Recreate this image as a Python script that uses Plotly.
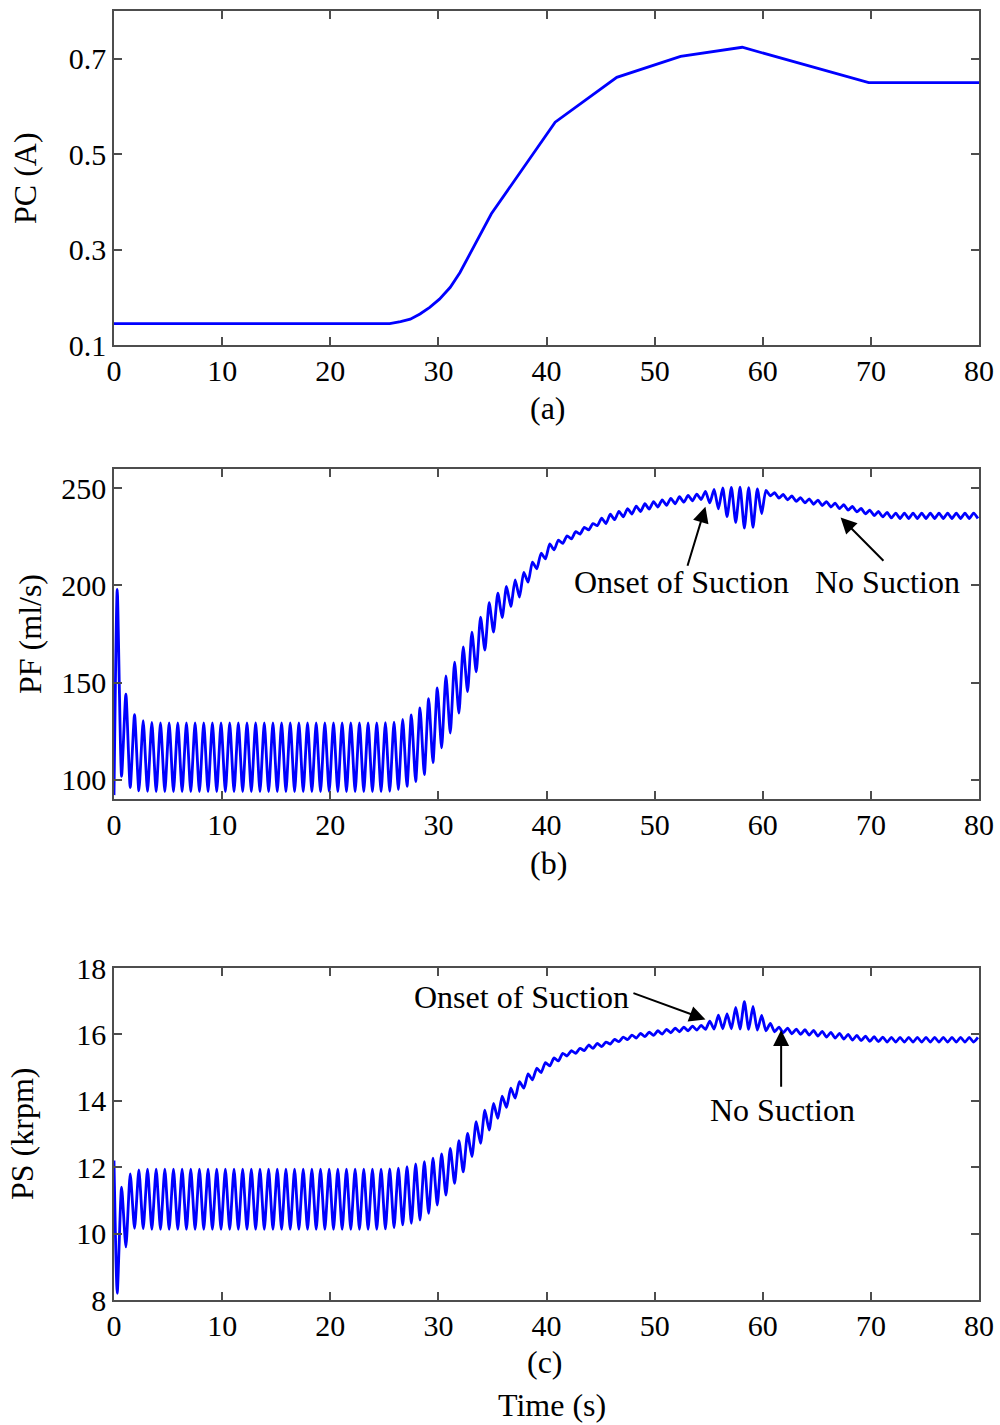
import plotly.graph_objects as go

# ---------------------------------------------------------------------------
# Data
# ---------------------------------------------------------------------------
# Pump current (A): breakpoints of the control profile
PC_TIME = [0.0, 25.5, 26.5, 27.4, 28.3, 29.2, 30.1, 31.1, 32.0, 32.9, 34.9,
           40.8, 46.5, 52.4, 58.1, 69.8, 80.0]
PC_AMP = [0.145, 0.145, 0.149, 0.154, 0.165, 0.179, 0.196, 0.221, 0.252, 0.291,
          0.375, 0.567, 0.661, 0.705, 0.724, 0.650, 0.650]

# Cardiac cycle timing (s): one beat every 0.8 s, systolic event 0.3 s into
# the beat, diastolic event 0.7 s into the beat
BEAT_PERIOD = 0.8
SYSTOLE_OFFSET = 0.3
DIASTOLE_OFFSET = 0.7

# Pump flow (ml/s): value at t = 0, then per-beat systolic maxima / diastolic minima
PF_START = 92.0
PF_PEAK = [
    198.0, 144.0, 133.5, 130.3, 129.4, 129.2, 129.2, 129.2, 129.2, 129.2,
    129.2, 129.2, 129.2, 129.2, 129.2, 129.2, 129.2, 129.2, 129.2, 129.2,
    129.2, 129.2, 129.2, 129.2, 129.2, 129.2, 129.2, 129.2, 129.2, 129.2,
    129.2, 129.3, 129.6, 131.0, 133.3, 136.9, 141.7, 147.2, 153.4, 160.5,
    168.4, 176.0, 183.7, 191.1, 196.1, 199.5, 202.9, 206.8, 212.0, 216.6,
    221.4, 223.4, 225.6, 227.7, 229.9, 231.9, 234.7, 236.7, 238.2, 239.6,
    240.9, 242.1, 243.2, 244.1, 244.9, 245.7, 246.4, 247.1, 248.5, 249.5,
    250.2, 250.5, 250.6, 250.4, 249.8, 249.0, 247.8, 246.9, 246.1, 245.3,
    244.6, 244.0, 243.2, 242.4, 241.6, 240.7, 239.7, 238.8, 238.1, 237.6,
    237.3, 237.3, 237.3, 237.3, 237.3, 237.3, 237.3, 237.3, 237.3, 237.3,
]
PF_TROUGH = [
    101.7, 95.9, 94.2, 93.9, 93.8, 93.8, 93.8, 93.8, 93.8, 93.8,
    93.8, 93.8, 93.8, 93.8, 93.8, 93.8, 93.8, 93.8, 93.8, 93.8,
    93.8, 93.8, 93.8, 93.8, 93.8, 93.8, 93.8, 93.8, 93.8, 93.8,
    93.8, 94.0, 94.8, 96.5, 99.0, 102.6, 108.8, 116.3, 124.0, 134.2,
    145.3, 155.5, 166.7, 176.0, 183.4, 189.2, 194.0, 201.7, 208.6, 213.7,
    218.3, 221.7, 224.0, 226.5, 228.6, 230.8, 231.9, 233.9, 235.4, 236.8,
    238.1, 239.3, 240.4, 241.3, 242.1, 242.9, 243.6, 244.3, 242.5, 239.5,
    235.5, 232.5, 229.5, 230.0, 237.0, 246.2, 245.0, 244.1, 243.3, 242.5,
    241.8, 241.2, 240.4, 239.6, 238.8, 237.9, 236.9, 236.0, 235.3, 234.8,
    234.5, 234.5, 234.5, 234.5, 234.5, 234.5, 234.5, 234.5, 234.5, 234.5,
]

# Pump speed (krpm): value at t = 0, then per-beat systolic minima / diastolic maxima
PS_START = 12.2
PS_TROUGH = [
    8.20, 9.60, 10.16, 10.15, 10.13, 10.13, 10.13, 10.13, 10.13, 10.13,
    10.13, 10.13, 10.13, 10.13, 10.13, 10.13, 10.13, 10.13, 10.13, 10.13,
    10.13, 10.13, 10.13, 10.13, 10.13, 10.13, 10.13, 10.13, 10.13, 10.13,
    10.13, 10.14, 10.18, 10.26, 10.31, 10.41, 10.61, 10.86, 11.16, 11.51,
    11.86, 12.32, 12.72, 13.12, 13.47, 13.80, 14.08, 14.38, 14.63, 14.85,
    15.05, 15.20, 15.35, 15.43, 15.51, 15.58, 15.63, 15.71, 15.78, 15.84,
    15.89, 15.93, 15.97, 16.01, 16.05, 16.08, 16.11, 16.13, 16.15, 16.16,
    16.17, 16.17, 16.16, 16.15, 16.13, 16.11, 16.08, 16.05, 16.02, 16.00,
    15.98, 15.95, 15.92, 15.89, 15.86, 15.83, 15.81, 15.79, 15.78, 15.77,
    15.77, 15.77, 15.77, 15.77, 15.77, 15.77, 15.77, 15.77, 15.77, 15.77,
]
PS_PEAK = [
    11.40, 11.80, 11.92, 11.94, 11.94, 11.94, 11.94, 11.94, 11.94, 11.94,
    11.94, 11.94, 11.94, 11.94, 11.94, 11.94, 11.94, 11.94, 11.94, 11.94,
    11.94, 11.94, 11.94, 11.94, 11.94, 11.94, 11.94, 11.94, 11.94, 11.94,
    11.94, 11.95, 11.97, 12.02, 12.10, 12.17, 12.27, 12.40, 12.57, 12.80,
    13.02, 13.37, 13.72, 13.92, 14.14, 14.38, 14.58, 14.81, 14.98, 15.15,
    15.29, 15.43, 15.51, 15.58, 15.68, 15.73, 15.77, 15.85, 15.92, 15.98,
    16.03, 16.07, 16.11, 16.15, 16.19, 16.22, 16.25, 16.27, 16.40, 16.58,
    16.62, 16.81, 16.99, 16.84, 16.57, 16.33, 16.22, 16.19, 16.16, 16.14,
    16.12, 16.09, 16.06, 16.03, 16.00, 15.97, 15.95, 15.93, 15.92, 15.91,
    15.91, 15.91, 15.91, 15.91, 15.91, 15.91, 15.91, 15.91, 15.91, 15.91,
]

X_TICKS = [0, 10, 20, 30, 40, 50, 60, 70, 80]
PC_TICKS = [0.1, 0.3, 0.5, 0.7]
PF_TICKS = [100, 150, 200, 250]
PS_TICKS = [8, 10, 12, 14, 16, 18]


def beat_series(start, systolic, diastolic):
    """Interleave per-beat systolic and diastolic values on the time axis."""
    t, v = [0.0], [start]
    for k, (s, d) in enumerate(zip(systolic, diastolic)):
        t += [SYSTOLE_OFFSET + BEAT_PERIOD * k, DIASTOLE_OFFSET + BEAT_PERIOD * k]
        v += [s, d]
    return t, v


pf_t, pf_v = beat_series(PF_START, PF_PEAK, PF_TROUGH)
ps_t, ps_v = beat_series(PS_START, PS_TROUGH, PS_PEAK)

# ---------------------------------------------------------------------------
# Figure
# ---------------------------------------------------------------------------
W, H = 1000, 1425
FONT = "Liberation Serif"
FS_TICK = 30
FS_TEXT = 32
BLUE = "#0000FF"
AXC = "#4d4d4d"
LW = 2.8

fig = go.Figure()
fig.add_trace(go.Scatter(x=PC_TIME, y=PC_AMP, mode="lines",
                         line=dict(color=BLUE, width=LW),
                         xaxis="x", yaxis="y"))
fig.add_trace(go.Scatter(x=pf_t, y=pf_v, mode="lines",
                         line=dict(color=BLUE, width=LW, shape="spline", smoothing=0.6),
                         xaxis="x2", yaxis="y2"))
fig.add_trace(go.Scatter(x=ps_t, y=ps_v, mode="lines",
                         line=dict(color=BLUE, width=LW, shape="spline", smoothing=0.6),
                         xaxis="x3", yaxis="y3"))


def px_x(p):
    return p / W


def px_y(p):
    return 1 - p / H


axis_style = dict(showline=True, linecolor=AXC, linewidth=1.5, mirror="ticks",
                  ticks="inside", ticklen=8, tickwidth=1.5, tickcolor=AXC,
                  showgrid=False, zeroline=False, automargin=False,
                  tickfont=dict(family=FONT, size=FS_TICK, color="black"))

x_dom = [px_x(114), px_x(979)]
panels = [  # (top px, bottom px, y range, y ticks)
    (11, 345, [0.1, 0.8], PC_TICKS),
    (469, 799, [90, 260], PF_TICKS),
    (968, 1300, [8, 18], PS_TICKS),
]
layout_axes = {}
for i, (top, bot, yr, yt) in enumerate(panels, start=1):
    sfx = "" if i == 1 else str(i)
    layout_axes["xaxis" + sfx] = dict(domain=x_dom, anchor="y" + sfx, range=[0, 80],
                                      tickvals=X_TICKS, ticklabelstandoff=-2, **axis_style)
    layout_axes["yaxis" + sfx] = dict(domain=[px_y(bot), px_y(top)], anchor="x" + sfx,
                                      range=yr, tickvals=yt, ticklabelstandoff=0,
                                      **axis_style)

fig.update_layout(width=W, height=H, margin=dict(l=0, r=0, t=0, b=0),
                  paper_bgcolor="white", plot_bgcolor="white", showlegend=False,
                  font=dict(family=FONT, size=FS_TEXT, color="black"), **layout_axes)

# Panel captions and axis titles
labels = [
    ("(a)", 548, 408, 0), ("(b)", 548, 863, 0), ("(c)", 545, 1362, 0),
    ("Time (s)", 552, 1405, 0),
    ("PC (A)", 25, 178, -90), ("PF (ml/s)", 30, 634, -90), ("PS (krpm)", 22, 1134, -90),
    ("Onset of Suction", 681, 582, 0), ("No Suction", 887, 582, 0),
    ("Onset of Suction", 521, 997, 0), ("No Suction", 782, 1110, 0),
]
for text, x, y, ang in labels:
    fig.add_annotation(text=text, x=px_x(x), y=px_y(y), xref="paper", yref="paper",
                       showarrow=False, textangle=ang, xanchor="center", yanchor="middle",
                       font=dict(family=FONT, size=FS_TEXT, color="black"))

# Arrows pointing at the suction events (tail -> head, in data units)
arrows = [
    ("x2", "y2", 53.0, 209.4, 54.7, 240.6),
    ("x2", "y2", 71.3, 212.0, 67.2, 235.0),
    ("x3", "y3", 47.9, 17.26, 54.7, 16.45),
    ("x3", "y3", 61.7, 14.38, 61.7, 16.13),
]
for xr, yr, tx, ty, hx, hy in arrows:
    fig.add_annotation(text="", x=hx, y=hy, ax=tx, ay=ty, xref=xr, yref=yr,
                       axref=xr, ayref=yr, showarrow=True, arrowhead=2,
                       arrowsize=1.6, arrowwidth=2, arrowcolor="black", standoff=0)

fig.write_html("out.html")
